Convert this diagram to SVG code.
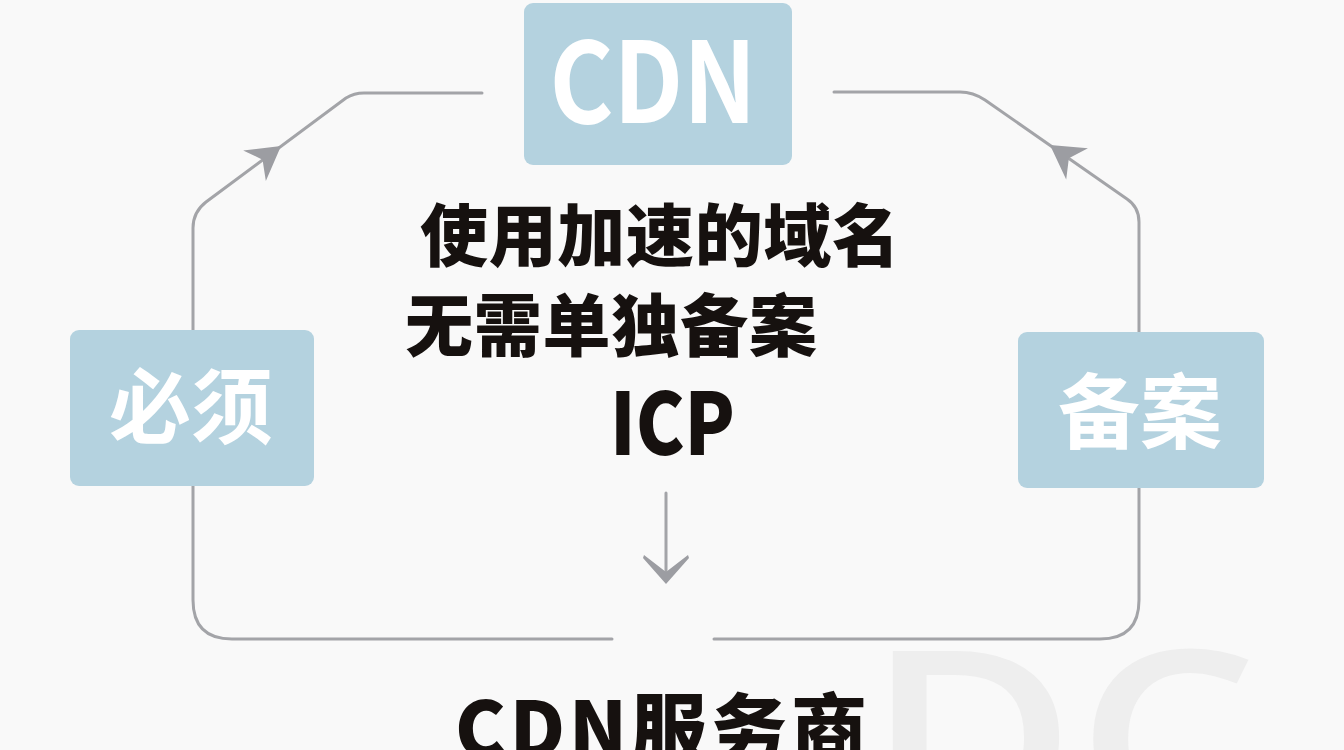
<svg xmlns="http://www.w3.org/2000/svg" width="1344" height="750" viewBox="0 0 1344 750">
<defs>
<style>
.box{fill:#b4d2df}
.wt{fill:#ffffff;font-family:"Noto Sans CJK SC",sans-serif;font-weight:700;text-anchor:middle}
.bk{fill:#16110f;font-family:"Noto Sans CJK SC",sans-serif;font-weight:900}
.ln{fill:none;stroke:#a3a4a8;stroke-width:3;stroke-linecap:round;stroke-linejoin:round}
.ah{fill:#9c9da2}
</style>
<path id="ah" d="M0,0 L-33,-19 L-23,0 L-33,19 Z"/>
<path id="dn" d="M0,0 L-23,-26 L-22,-29 L0,-12 L22,-29 L23,-26 Z"/>
</defs>
<rect width="1344" height="750" fill="#f9f9f9"/>
<text x="866" y="826" font-family="Open Sans, sans-serif" font-weight="600" font-size="245" fill="#eeeeee" textLength="392" lengthAdjust="spacingAndGlyphs">DC</text>
<g id="connectors">
<path class="ln" d="M193,331 L193,228 Q193,212 206,202 L346,98 Q354,93 364,93 L482,93"/>
<use href="#ah" class="ah" transform="translate(281,146) rotate(-36.6)"/>
<path class="ln" d="M1139,332 L1139,222 Q1139,207 1127,199 L985,100 Q973,92 960,92 L834,92"/>
<use href="#ah" class="ah" transform="translate(1050,145) rotate(-145.1)"/>
<path class="ln" d="M193,486 L193,600 Q193,639 232,639 L612,639"/>
<path class="ln" d="M714,639 L1100,639 Q1139,639 1139,600 L1139,488"/>
<path class="ln" d="M666,493 L666,576"/>
<use href="#dn" class="ah" transform="translate(666,584)"/>
</g>
<g id="node-cdn">
<rect class="box" x="524" y="3" width="268" height="162" rx="9"/>
<text class="wt" x="653" y="123" font-size="112" textLength="207" lengthAdjust="spacingAndGlyphs">CDN</text>
</g>
<g id="node-bixu">
<rect class="box" x="70" y="330" width="244" height="156" rx="9"/>
<text class="wt" x="191" y="437" font-size="82">必须</text>
</g>
<g id="node-beian">
<rect class="box" x="1018" y="332" width="246" height="156" rx="9"/>
<text class="wt" x="1140" y="442" font-size="82">备案</text>
</g>
<g id="node-desc">
<text class="bk" x="420" y="261" font-size="68" textLength="480" lengthAdjust="spacing">使用加速的域名</text>
<text class="bk" x="405" y="351" font-size="68" textLength="412" lengthAdjust="spacing">无需单独备案</text>
<text class="bk" x="610" y="455" font-size="86" font-weight="700" textLength="125" lengthAdjust="spacingAndGlyphs">ICP</text>
</g>
<g id="node-provider">
<text class="bk" x="455" y="757" font-size="76" font-weight="700" textLength="412" lengthAdjust="spacing">CDN服务商</text>
</g>
</svg>
